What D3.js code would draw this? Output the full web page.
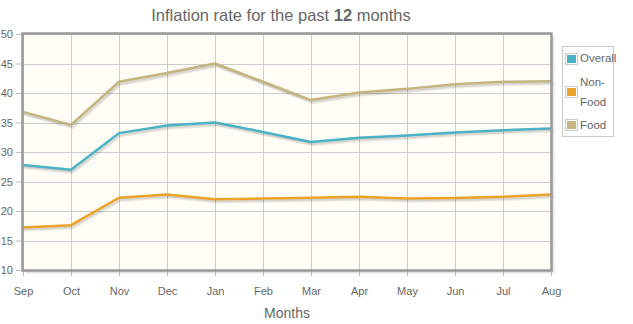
<!DOCTYPE html>
<html><head><meta charset="utf-8">
<script src="https://cdn.jsdelivr.net/npm/d3@7"></script>
<style>
body{margin:0;background:#fff;}
svg text{font-family:"Liberation Sans",Arial,sans-serif;}
</style></head>
<body><svg id="c" width="633" height="324"></svg>
<script>
const months = ["Sep","Oct","Nov","Dec","Jan","Feb","Mar","Apr","May","Jun","Jul","Aug"];
const seriesNames = ["Overall","Non-Food","Food"];
const overall = [27.8,27.0,33.2,34.5,35.0,33.4,31.7,32.4,32.8,33.3,33.7,34.0];
const nonFood = [17.2,17.6,22.25,22.8,22.0,22.1,22.25,22.4,22.1,22.2,22.4,22.8];
const food = [36.8,34.6,41.9,43.4,45.0,41.9,38.8,40.1,40.7,41.5,41.9,42.0];
const yTicks = [10,15,20,25,30,35,40,45,50];
const colors = ["#4bb2c5","#eaa228","#c5b47f"];

const svg = d3.select("#c");
const L=23, R=551, T=34, B=270;
const x = d3.scalePoint().domain(months).range([L,R]);
const y = d3.scaleLinear().domain([10,50]).range([B,T]);

svg.append("rect").attr("x",L).attr("y",T).attr("width",R-L).attr("height",B-T).attr("fill","#fffdf6");
const sh = svg.append("g").attr("fill","none");
[1,2,3].forEach(d=>{
  sh.append("path").attr("d",`M${R+d},${T+d} V${B+d} H${L+d}`).attr("stroke","rgba(0,0,0,0.07)").attr("stroke-width",1.5);
});
const g = svg.append("g");
g.selectAll(".gy").data(yTicks).join("line").attr("x1",L).attr("x2",R)
 .attr("y1",d=>Math.round(y(d))+0.5).attr("y2",d=>Math.round(y(d))+0.5).attr("stroke","#cccccc").attr("stroke-width",1);
g.selectAll(".gx").data(months).join("line").attr("y1",T).attr("y2",B)
 .attr("x1",d=>Math.round(x(d))+0.5).attr("x2",d=>Math.round(x(d))+0.5).attr("stroke","#cccccc").attr("stroke-width",1);

const yAxis = d3.axisLeft(y).tickValues(yTicks).tickSize(7).tickPadding(3);
const ya = svg.append("g").attr("transform",`translate(${L},0)`).call(yAxis);
ya.attr("font-family",null);
ya.select(".domain").remove();
ya.selectAll("line").attr("stroke","#bbbbbb");
ya.selectAll("text").attr("fill","#666").style("font-size","11px");

const xAxis = d3.axisBottom(x).tickSize(6).tickPadding(11);
const xa = svg.append("g").attr("transform",`translate(0,${B})`).call(xAxis);
xa.attr("font-family",null);
xa.select(".domain").remove();
xa.selectAll("line").attr("stroke","#bbbbbb");
xa.selectAll("text").attr("fill","#666").style("font-size","11px");

const data = [overall,nonFood,food];
const line = d3.line().x((d,i)=>x(months[i])).y(d=>y(d));
const lg = svg.append("g").attr("fill","none").attr("stroke-linejoin","round").attr("stroke-linecap","round");
data.forEach((s,k)=>{
  for(let j=3;j>=1;j--){
    lg.append("path").datum(s).attr("d",line).attr("transform",`translate(${j*0.6},${j*1})`)
      .attr("stroke","rgba(0,0,0,0.07)").attr("stroke-width",2.5);
  }
  lg.append("path").datum(s).attr("d",line).attr("stroke",colors[k]).attr("stroke-width",2.5);
});

svg.append("rect").attr("x",L-0.5).attr("y",T-0.5).attr("width",R-L+1).attr("height",B-T+1)
  .attr("fill","none").attr("stroke","#999999").attr("stroke-width",2.5);

const title = svg.append("text").attr("x",281).attr("y",21).attr("text-anchor","middle")
  .attr("fill","#666").style("font-size","16.5px");
title.append("tspan").text("Inflation rate for the past ");
title.append("tspan").attr("font-weight","bold").text("12");
title.append("tspan").text(" months");

svg.append("text").attr("x",287).attr("y",318).attr("text-anchor","middle").attr("fill","#666")
  .style("font-size","14px").text("Months");

const leg = svg.append("g");
leg.append("rect").attr("x",562.5).attr("y",46.5).attr("width",51).attr("height",90).attr("fill","#fff").attr("stroke","#cccccc");
const entries = [
  {sy:53, lines:[{t:"Overall",y:62}]},
  {sy:86, lines:[{t:"Non-",y:86},{t:"Food",y:106}]},
  {sy:119, lines:[{t:"Food",y:129}]}
];
entries.forEach((e,i)=>{
  leg.append("rect").attr("x",565.5).attr("y",e.sy+0.5).attr("width",12).attr("height",11).attr("fill","#fff").attr("stroke","#cccccc");
  leg.append("rect").attr("x",567).attr("y",e.sy+2).attr("width",9).attr("height",8).attr("fill",colors[i]);
  e.lines.forEach(l=>{
    leg.append("text").attr("x",580).attr("y",l.y).attr("fill","#666").style("font-size","11.5px").text(l.t);
  });
});
</script></body></html>
